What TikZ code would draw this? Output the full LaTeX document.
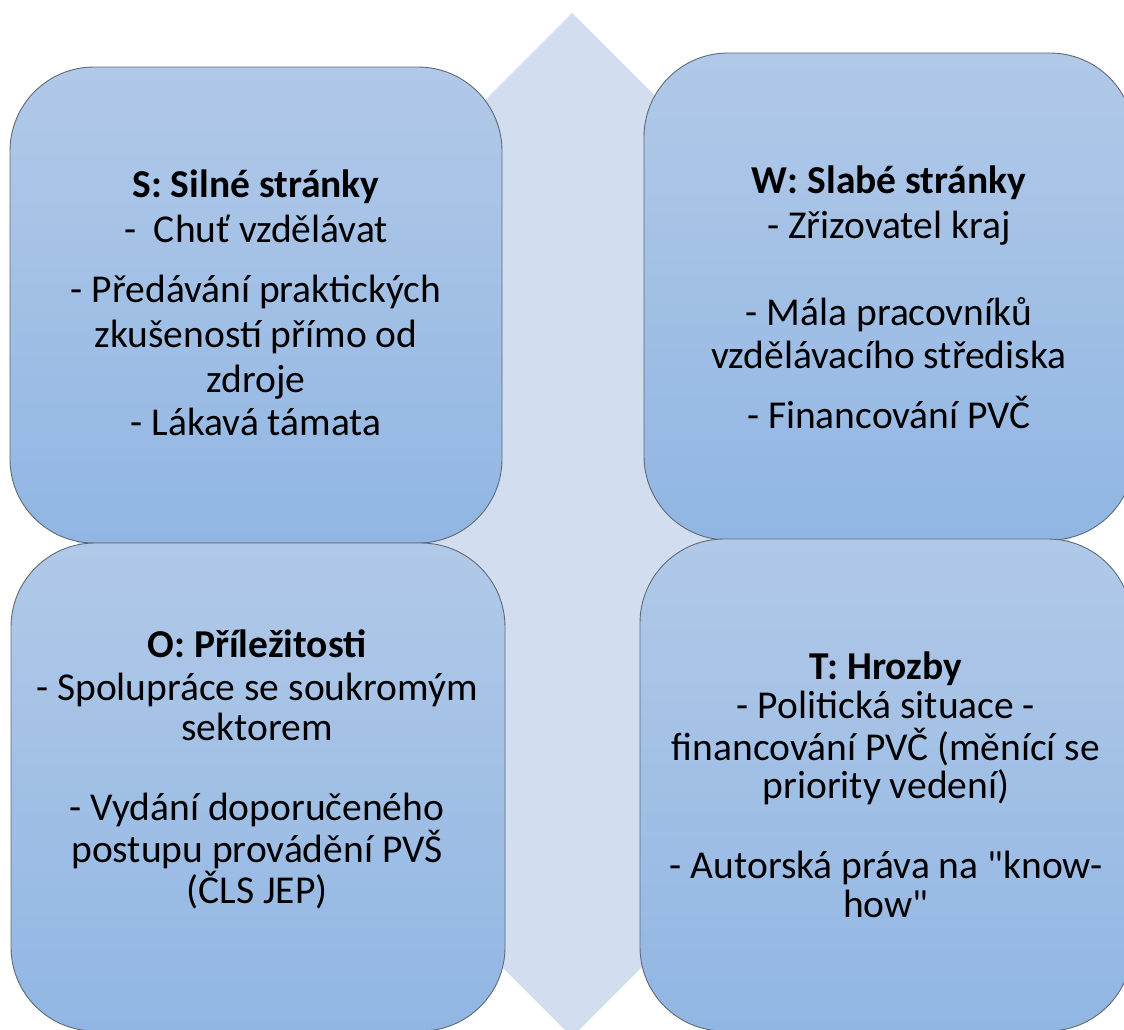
\documentclass[tikz,border=0pt]{standalone}
\usepackage{fontspec}
\setmainfont{Carlito}
\definecolor{boxtop}{RGB}{177,201,232}
\definecolor{boxbot}{RGB}{145,182,227}
\definecolor{diam}{RGB}{210,222,239}
\definecolor{edge}{RGB}{96,106,118}
\begin{document}
\begin{tikzpicture}[x=1pt,y=-1pt,
  quad/.style={draw=edge,line width=0.9pt,rounded corners=84pt,top color=boxtop,bottom color=boxbot},
  ln/.style={anchor=base,inner sep=0pt,font=\fontsize{39.5}{44}\selectfont},
  hd/.style={anchor=base,inner sep=0pt,font=\fontsize{39.5}{44}\selectfont\bfseries}]
\useasboundingbox (0,0) rectangle (1124,1029);
\clip (0,0) rectangle (1124,1029);
% background diamond
\fill[diam] (572,13) -- (1084,525) -- (572,1037) -- (60,525) -- cycle;
% quadrants
\draw[quad] (10,67) rectangle (502,543);
\draw[quad] (644,53) rectangle (1134,540);
\draw[quad] (11,543) rectangle (505,1031);
\draw[quad] (640,539) rectangle (1132,1031);
% S
\node[hd] (s0) at (256,197) {S: Silné stránky};
\node[ln] (s1) at (256,242) {-\ \ Chuť vzdělávat};
\node[ln] (s2) at (256,302) {- Předávání praktických};
\node[ln] (s3) at (256,347) {zkušeností přímo od};
\node[ln] (s4) at (256,392) {zdroje};
\node[ln] (s5) at (256,435) {- Lákavá támata};
% W
\node[hd] (w0) at (889,193) {W: Slabé stránky};
\node[ln] (w1) at (889,238) {- Zřizovatel kraj};
\node[ln] (w2) at (889,325) {- Mála pracovníků};
\node[ln] (w3) at (889,368) {vzdělávacího střediska};
\node[ln] (w4) at (889,428) {- Financování PVČ};
% O
\node[hd] (o0) at (257,657) {O: Příležitosti};
\node[ln] (o1) at (257,700) {- Spolupráce se soukromým};
\node[ln] (o2) at (257,740) {sektorem};
\node[ln] (o3) at (257,820) {- Vydání doporučeného};
\node[ln] (o4) at (257,862) {postupu provádění PVŠ};
\node[ln] (o5) at (257,903) {(ČLS JEP)};
% T
\node[hd] (t0) at (886,679) {T: Hrozby};
\node[ln] (t1) at (886,718) {- Politická situace -};
\node[ln] (t2) at (886,760) {financování PVČ (měnící se};
\node[ln] (t3) at (886,798) {priority vedení)};
\node[ln] (t4) at (886,878) {- Autorská práva na \textquotedbl know-};
\node[ln] (t5) at (886,917) {how\textquotedbl};
\end{tikzpicture}
\end{document}
